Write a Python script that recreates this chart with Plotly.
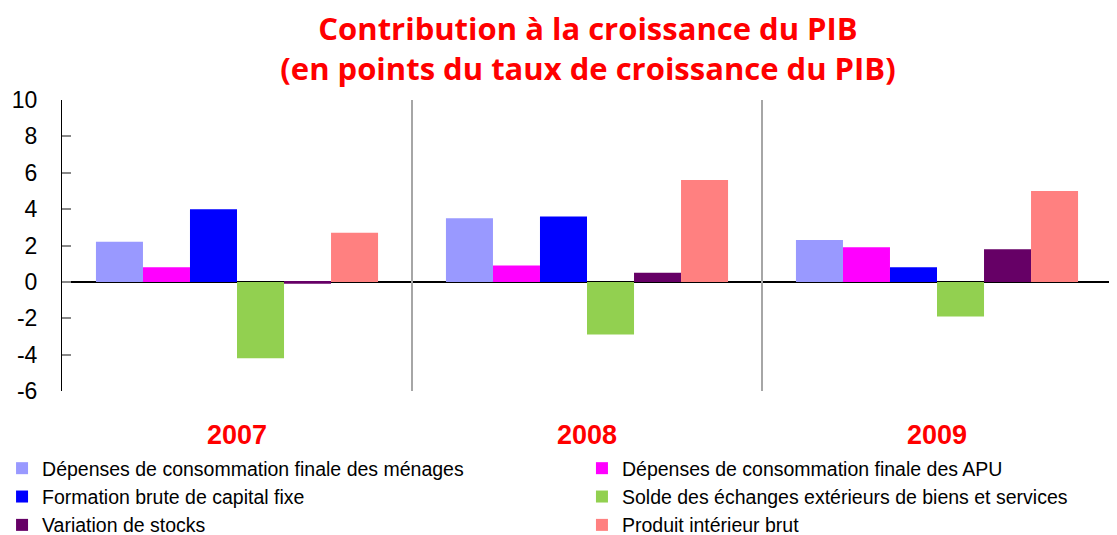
import plotly.graph_objects as go

years = ["2007", "2008", "2009"]
series_names = [
    "Dépenses de consommation finale des ménages",
    "Dépenses de consommation finale des APU",
    "Formation brute de capital fixe",
    "Solde des échanges extérieurs de biens et services",
    "Variation de stocks",
    "Produit intérieur brut",
]
menages = [2.2, 3.5, 2.3]
apu = [0.8, 0.9, 1.9]
fbcf = [4.0, 3.6, 0.8]
solde = [-4.2, -2.9, -1.9]
stocks = [-0.1, 0.5, 1.8]
pib = [2.7, 5.6, 5.0]
colors = ["#9999FF", "#FF00FF", "#0000FF", "#92D050", "#660066", "#FF8080"]
legend_groups = ["legend", "legend2", "legend", "legend2", "legend", "legend2"]
y_ticks = [-6, -4, -2, 0, 2, 4, 6, 8, 10]
y_tick_labels = ["-6", "-4", "-2", "0", "2", "4", "6", "8", "10"]

all_values = [menages, apu, fbcf, solde, stocks, pib]

W, H = 1109, 527  # page body has an 8px margin

fig = go.Figure()
for name, vals, col, lg in zip(series_names, all_values, colors, legend_groups):
    fig.add_trace(go.Bar(x=years, y=vals, name=name, legend=lg,
                         marker=dict(color=col, line=dict(width=0))))

# category separators
for i in range(len(years)):
    fig.add_shape(type="line", xref="x", yref="y domain", x0=i + 0.5, x1=i + 0.5, y0=0, y1=1,
                  line=dict(color="#A6A6A6", width=2), layer="above")

legend_common = dict(
    orientation="v", xref="paper", yref="container",
    xanchor="left", yanchor="top",
    font=dict(size=19.5, color="black"), traceorder="normal",
    itemwidth=30, tracegroupgap=0, bgcolor="rgba(0,0,0,0)",
)

fig.update_layout(
    width=W, height=H,
    paper_bgcolor="white", plot_bgcolor="white",
    margin=dict(l=54, r=5, t=92, b=144, autoexpand=False),
    barmode="group", bargap=0.194, bargroupgap=0,
    font=dict(family="Liberation Sans, Arial, sans-serif", color="black"),
    title=dict(
        text="Contribution à la croissance du PIB<br>(en points du taux de croissance du PIB)",
        x=580 / W, xanchor="center", y=1 - 32 / H, yanchor="middle",
        font=dict(family="Open Sans, sans-serif", size=31, color="#FF0000", weight="bold"),
    ),
    showlegend=True,
    legend=dict(legend_common, x=-0.0571, y=1 - 441 / H),
    legend2=dict(legend_common, x=0.4952, y=1 - 441 / H),
    xaxis=dict(
        type="category", showline=False, showgrid=False, ticks="",
        tickfont=dict(size=27, color="#FF0000", weight="bold"),
        ticklabelstandoff=25, range=[-0.5, 2.5], automargin=False,
    ),
    yaxis=dict(
        range=[-6, 10], tickvals=y_ticks, ticktext=y_tick_labels, showgrid=False,
        showline=True, linecolor="black", linewidth=1,
        ticks="inside", ticklen=9, tickcolor="#888888", tickwidth=2,
        zeroline=True, zerolinecolor="black", zerolinewidth=1.5,
        tickfont=dict(size=23, color="black"), ticklabelstandoff=19, automargin=False,
    ),
)

fig.write_html("out.html")
